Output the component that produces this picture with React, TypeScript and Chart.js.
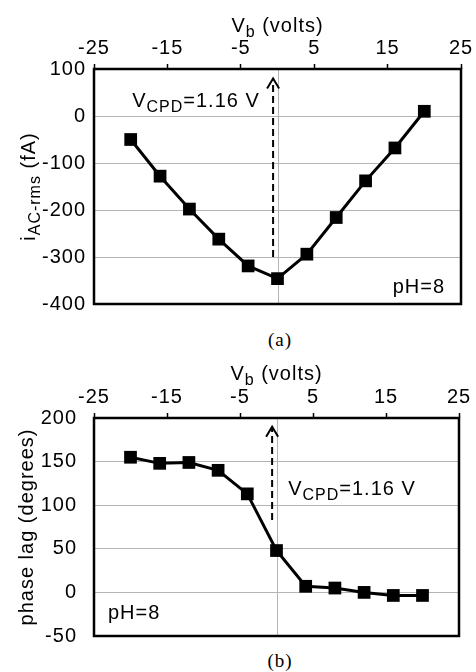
import React, { useEffect, useRef } from "react";
import { Chart, registerables } from "chart.js";

Chart.register(...registerables);

const vb = [-20, -16, -12, -8, -4, 0, 4, 8, 12, 16, 20];
const currentFA = [-50, -128, -198, -262, -319, -346, -294, -216, -138, -68, 10];
const phaseDeg = [155, 148, 149, 140, 113, 48, 7, 5, 0, -3.5, -3.5];

const xTickRange = { min: -25, max: 25, step: 10 };
const yRangeA = { min: -400, max: 100, step: 100 };
const yRangeB = { min: -50, max: 200, step: 50 };

const vcpdArrowX = -0.6;
const arrowA = { from: -300, to: 80 };
const arrowB = { from: 83, to: 190 };

const FONT = '"Liberation Sans", Arial, Helvetica, sans-serif';
const FS = 20;
const LS = "1px";

type Part = { t: string; sub?: boolean };

function drawRich(ctx: CanvasRenderingContext2D, parts: Part[], x: number, y: number, align: "left" | "center" | "right", size: number) {
  const subSize = Math.round(size * 0.8);
  const fMain = `${size}px ${FONT}`;
  const fSub = `${subSize}px ${FONT}`;
  (ctx as any).letterSpacing = LS;
  let total = 0;
  for (const p of parts) {
    ctx.font = p.sub ? fSub : fMain;
    total += ctx.measureText(p.t).width;
  }
  let cx = align === "left" ? x : align === "center" ? x - total / 2 : x - total;
  ctx.textAlign = "left";
  ctx.textBaseline = "alphabetic";
  for (const p of parts) {
    ctx.font = p.sub ? fSub : fMain;
    ctx.fillText(p.t, cx, p.sub ? y + size * 0.25 : y);
    cx += ctx.measureText(p.t).width;
  }
}

function makeConfig(opts: {
  data: number[];
  yr: { min: number; max: number; step: number };
  xAxisHeight: number;
  padRight: number;
  padBottom: number;
  yTickPad: number;
  titleBaseline: number;
  yTitle: Part[];
  yTitleX: number;
  arrow: { from: number; to: number };
  vcpdPos: { x: number; y: number };
  phLeft: boolean;
}) {
  const overlay = {
    id: "overlay",
    beforeDraw(chart: any) {
      (chart.ctx as any).letterSpacing = LS;
    },
    beforeDatasetsDraw(chart: any) {
      const { ctx, chartArea: a, scales } = chart;
      const x0 = scales.x.getPixelForValue(0);
      ctx.save();
      ctx.strokeStyle = "#b4b4b4";
      ctx.lineWidth = 1;
      ctx.beginPath();
      ctx.moveTo(Math.round(x0) + 0.5, a.top);
      ctx.lineTo(Math.round(x0) + 0.5, a.bottom);
      ctx.stroke();
      const ax = scales.x.getPixelForValue(vcpdArrowX);
      const yFrom = scales.y.getPixelForValue(opts.arrow.from);
      const yTo = scales.y.getPixelForValue(opts.arrow.to);
      ctx.strokeStyle = "#000";
      ctx.lineWidth = 2;
      ctx.setLineDash([7, 4]);
      ctx.beginPath();
      ctx.moveTo(ax, yFrom);
      ctx.lineTo(ax, yTo + 2);
      ctx.stroke();
      ctx.setLineDash([]);
      ctx.beginPath();
      ctx.moveTo(ax - 6, yTo + 10);
      ctx.lineTo(ax, yTo);
      ctx.lineTo(ax + 6, yTo + 10);
      ctx.stroke();
      ctx.restore();
    },
    afterDraw(chart: any) {
      const { ctx, chartArea: a, scales } = chart;
      ctx.save();
      ctx.strokeStyle = "#000";
      ctx.lineWidth = 2.5;
      ctx.strokeRect(a.left, a.top, a.right - a.left, a.bottom - a.top);
      ctx.fillStyle = "#000";
      drawRich(ctx, [{ t: "V" }, { t: "b", sub: true }, { t: " (volts)" }], (a.left + a.right) / 2, opts.titleBaseline, "center", FS);
      ctx.save();
      ctx.translate(opts.yTitleX, (a.top + a.bottom) / 2);
      ctx.rotate(-Math.PI / 2);
      drawRich(ctx, opts.yTitle, 0, 7, "center", FS);
      ctx.restore();
      drawRich(
        ctx,
        [{ t: "V" }, { t: "CPD", sub: true }, { t: "=1.16 V" }],
        scales.x.getPixelForValue(opts.vcpdPos.x),
        scales.y.getPixelForValue(opts.vcpdPos.y),
        "left",
        FS
      );
      if (opts.phLeft) {
        drawRich(ctx, [{ t: "pH=8" }], a.left + 14, a.bottom - 17, "left", FS);
      } else {
        drawRich(ctx, [{ t: "pH=8" }], a.right - 16, a.bottom - 11, "right", FS);
      }
      ctx.restore();
    },
  };

  return {
    type: "line" as const,
    data: {
      datasets: [
        {
          data: vb.map((v, i) => ({ x: v, y: opts.data[i] })),
          borderColor: "#000",
          backgroundColor: "#000",
          borderWidth: 3,
          pointStyle: "rect" as const,
          pointRadius: 9,
          pointBorderWidth: 0,
          pointBackgroundColor: "#000",
          tension: 0,
          clip: false as any,
        },
      ],
    },
    options: {
      animation: false as const,
      responsive: false,
      devicePixelRatio: 1,
      layout: { padding: { left: 0, top: 0, right: opts.padRight, bottom: opts.padBottom } },
      plugins: { legend: { display: false }, tooltip: { enabled: false }, title: { display: false } },
      scales: {
        x: {
          type: "linear" as const,
          position: "top" as const,
          min: xTickRange.min,
          max: xTickRange.max,
          ticks: { stepSize: xTickRange.step, color: "#000", font: { family: FONT, size: FS }, padding: 4, maxRotation: 0 },
          grid: { drawOnChartArea: false, drawTicks: true, tickLength: 5, tickColor: "#000", tickWidth: 1.5 },
          border: { display: false },
          afterFit(scale: any) {
            scale.height = opts.xAxisHeight;
            scale.paddingLeft = 0;
            scale.paddingRight = 0;
          },
        },
        y: {
          type: "linear" as const,
          min: opts.yr.min,
          max: opts.yr.max,
          ticks: { stepSize: opts.yr.step, color: "#000", font: { family: FONT, size: FS }, padding: opts.yTickPad },
          grid: { drawTicks: false, color: "#b4b4b4", lineWidth: 1 },
          border: { display: false },
          afterFit(scale: any) {
            scale.width = 94;
            scale.paddingTop = 0;
            scale.paddingBottom = 0;
          },
        },
      },
    },
    plugins: [overlay],
  };
}

export default function App() {
  const refA = useRef<HTMLCanvasElement>(null);
  const refB = useRef<HTMLCanvasElement>(null);

  useEffect(() => {
    const cA = new Chart(
      refA.current as HTMLCanvasElement,
      makeConfig({
        data: currentFA,
        yr: yRangeA,
        xAxisHeight: 69,
        padRight: 15,
        padBottom: 16,
        yTickPad: 8,
        titleBaseline: 32,
        yTitle: [{ t: "i" }, { t: "AC-rms", sub: true }, { t: " (fA)" }],
        yTitleX: 28,
        arrow: arrowA,
        vcpdPos: { x: -19.8, y: 19 },
        phLeft: false,
      }) as any
    );
    const cB = new Chart(
      refB.current as HTMLCanvasElement,
      makeConfig({
        data: phaseDeg,
        yr: yRangeB,
        xAxisHeight: 73,
        padRight: 17,
        padBottom: 14,
        yTickPad: 17,
        titleBaseline: 35,
        yTitle: [{ t: "phase lag (degrees)" }],
        yTitleX: 26,
        arrow: arrowB,
        vcpdPos: { x: 1.6, y: 112 },
        phLeft: true,
      }) as any
    );
    return () => {
      cA.destroy();
      cB.destroy();
    };
  }, []);

  const cap: React.CSSProperties = {
    position: "absolute",
    left: 180,
    width: 200,
    textAlign: "center",
    fontFamily: '"Liberation Serif", "Times New Roman", serif',
    fontSize: 19,
    letterSpacing: 1,
    lineHeight: "20px",
    color: "#000",
  };

  return (
    <div style={{ position: "absolute", left: 0, top: 0, width: 476, height: 672, background: "#fff" }}>
      <canvas ref={refA} width={476} height={320} style={{ position: "absolute", left: 0, top: 0 }} />
      <div style={{ ...cap, top: 330 }}>(a)</div>
      <canvas ref={refB} width={476} height={305} style={{ position: "absolute", left: 0, top: 345 }} />
      <div style={{ ...cap, top: 651 }}>(b)</div>
    </div>
  );
}
